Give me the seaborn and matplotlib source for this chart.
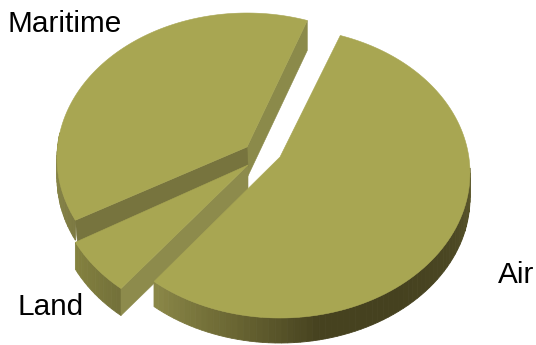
import numpy as np
import matplotlib
matplotlib.use("Agg")
import matplotlib.pyplot as plt
import seaborn as sns

# Share of each sector, percent, in drawing order going counter-clockwise
categories = ["Maritime", "Land", "Air"]
shares = [37.2, 6.4, 56.4]
first_angle = 71.5

TOP = "#a8a652"
RX, RY = 190, 145

# Exploded placement of each slice: ellipse centre, tip and extrusion depth
centres = {"Maritime": (247, 158), "Land": (247, 180), "Air": (280, 173)}
tips = {"Maritime": (247, 147), "Land": (248, 165), "Air": (280, 157)}
depths = {"Maritime": 20, "Land": 27, "Air": 25}

sns.set_theme(style="white")
plt.rcParams["font.family"] = ["Liberation Sans", "DejaVu Sans"]

fig, ax = plt.subplots(figsize=(5.36, 3.45), dpi=100)
fig.subplots_adjust(0, 0, 1, 1)
ax.set_xlim(0, 536)
ax.set_ylim(345, 0)
ax.axis("off")

# Sector limits come straight from the shares
sweeps = np.array(shares) * 3.6
limits = first_angle + np.concatenate([[0], np.cumsum(sweeps)])
spans = {c: (limits[i], limits[i + 1]) for i, c in enumerate(categories)}

_order = [0]


def next_layer():
    _order[0] += 1
    return _order[0]


def rim(name, angles):
    cx, cy = centres[name]
    rad = np.radians(angles)
    return cx + RX * np.cos(rad), cy - RY * np.sin(rad)


def outer_wall(name, a0, a1, shades):
    """Curved side of a slice, shaded in narrow strips along the arc."""
    edges = np.linspace(a0, a1, len(shades) + 1)
    d = depths[name]
    for shade, e0, e1 in zip(shades, edges[:-1], edges[1:]):
        xs, ys = rim(name, np.linspace(e0, e1, 4))
        px = np.r_[xs, xs[::-1]]
        py = np.r_[ys, ys[::-1] + d]
        ax.fill(px, py, color=shade, lw=0.6, zorder=next_layer())


def flat_face(xs, ys, colour):
    ax.fill(xs, ys, color=colour, lw=0.4, zorder=next_layer())


def top_face(name):
    a0, a1 = spans[name]
    xs, ys = rim(name, np.linspace(a0, a1, 160))
    tx, ty = tips[name]
    flat_face(np.r_[tx, xs], np.r_[ty, ys], TOP)


# Maritime slice: sits at the back
a0, a1 = spans["Maritime"]
sx, sy = rim("Maritime", a0)
flat_face([sx, sx, 247, 247], [sy, sy + 30, 178, 147], "#8b8a4a")
outer_wall("Maritime", 170, a1, sns.blend_palette(["#8f8d4c", "#7d7a42"], 24))
ex, ey = rim("Maritime", a1)
flat_face([ex, ex + 2, 248, 247], [ey, ey + 22, 167, 147], "#77743e")
top_face("Maritime")

# Land slice: wedge in front of the maritime one
a0, a1 = spans["Land"]
ex, ey = rim("Land", a1)
outer_wall("Land", a0, a1, sns.blend_palette(["#84823f", "#74713a"], 12))
flat_face([ex, ex, 248, 248], [ey, ey + 27, 192, 165], "#8d8b4c")
top_face("Land")

# Air slice: the largest, nearest the viewer
a0, a1 = spans["Air"]
wall = sns.blend_palette(
    ["#8a8747", "#6a6633", "#46421f", "#45411f", "#4b4723", "#5a562b"], 70
)
outer_wall("Air", a0, 362, wall)
top_face("Air")

# Category names beside their slices
label_style = dict(fontsize=21.4, color="black", va="center", ha="left", zorder=200)
ax.text(8, 24, "Maritime", **label_style)
ax.text(18, 307, "Land", **label_style)
ax.text(498, 275, "Air", **label_style)

fig.savefig("out.png", dpi=100, facecolor="white")
